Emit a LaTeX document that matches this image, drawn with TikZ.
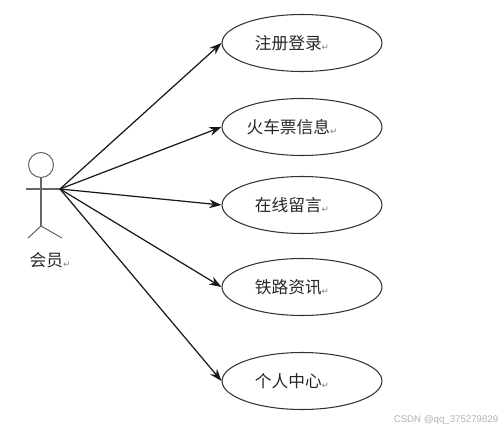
\documentclass[tikz,border=0pt]{standalone}
\usepackage{fontspec}
\newfontfamily\cjk{Noto Sans CJK SC}
\newfontfamily\symfont{DejaVu Sans}
\setsansfont{Liberation Sans}
\usetikzlibrary{shapes.geometric,arrows.meta}
\newcommand{\retmark}{{\symfont\tiny\color{gray}\raisebox{-0.3ex}{↵}}}
\newcommand{\lefttext}[1]{\hspace*{-0.4cm}#1\retmark}
\begin{document}
\begin{tikzpicture}[x=0.02cm, y=-0.02cm,
        usecase/.style={ellipse, draw=black!80, line width=0.6pt, minimum width=3.2cm, minimum height=1.14cm, font=\cjk\fontsize{9.5}{11}\selectfont, text=black!85},
        actorline/.style={draw=black!60, line width=0.6pt},
        arrow/.style={-{Stealth[length=7pt, width=5pt]}, line width=0.7pt, black!90}
    ]
        \useasboundingbox (0,0) rectangle (500,429);

        % Actor
        \node[circle, actorline, minimum size=0.5cm, inner sep=0pt] (head) at (41,165) {};
        \coordinate (hip) at (41,226);
        \coordinate (hand) at (60,189);
        \draw[actorline] (head.south) -- (hip);
        \draw[actorline] (26,189) -- (hand);
        \draw[actorline] (28,238) -- (hip) -- (62,238);
        \node[font=\cjk\fontsize{9.5}{11}\selectfont, text=black!85] (member) at (50,260) {会员\retmark};

        % Use cases
        \node[usecase] (register) at (302,43) {\lefttext{注册登录}};
        \node[usecase] (ticket) at (302,127) {\lefttext{火车票信息}};
        \node[usecase] (message) at (302,205) {\lefttext{在线留言}};
        \node[usecase] (news) at (302,287) {\lefttext{铁路资讯}};
        \node[usecase] (center) at (302,381) {\lefttext{个人中心}};

        \draw[arrow] (hand) -- (register.west);
        \draw[arrow] (hand) -- (ticket.west);
        \draw[arrow] (hand) -- (message.west);
        \draw[arrow] (hand) -- (news.west);
        \draw[arrow] (hand) -- (center.west);

        % Watermark
        \node[font=\sffamily\fontsize{5.5}{6}\selectfont, text=black!30] (mark) at (446,420) {CSDN @qq\_375279829};
    \end{tikzpicture}
\end{document}
